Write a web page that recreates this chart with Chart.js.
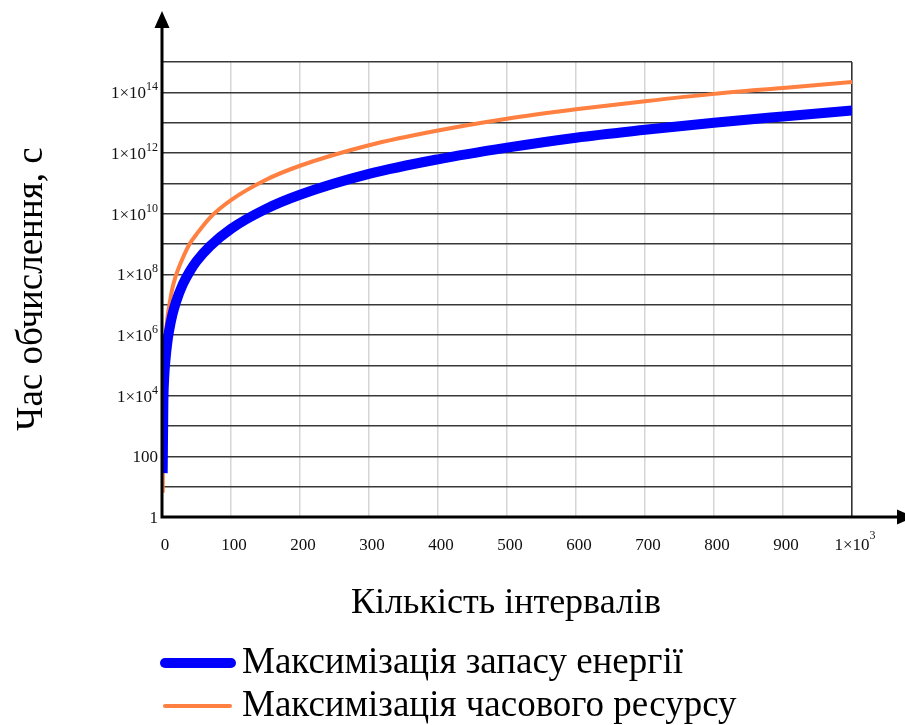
<!DOCTYPE html>
<html>
<head>
<meta charset="utf-8">
<script src="https://cdn.jsdelivr.net/npm/chart.js@4"></script>
<style>
  html, body { margin: 0; padding: 0; background: #fff; }
  #wrap { width: 905px; height: 725px; position: relative; }
</style>
</head>
<body>
<div id="wrap"><canvas id="c" width="905" height="725"></canvas></div>
<script>
// Number of intervals
const intervals = [1, 2, 3, 4, 5, 6, 8, 10, 15, 20, 30, 40, 50, 70, 100, 150, 200, 300, 400, 500, 600, 700, 800, 900, 1000];
// Computation time, s — energy reserve maximisation
const energyTime = [2.8e1, 6.3e3, 3.2e4, 7.9e4, 1.5e5, 2.6e5, 6.3e5, 1.26e6, 4.6e6, 1.17e7, 4.6e7, 1.23e8, 2.7e8, 8.7e8, 3.16e9, 1.41e10, 4.2e10, 2.04e11, 6.2e11, 1.5e12, 3.2e12, 5.8e12, 1.0e13, 1.6e13, 2.5e13];
// Computation time, s — time resource maximisation
const resourceTime = [6.3, 2.0e4, 1.1e5, 3.2e5, 7.1e5, 1.4e6, 4.0e6, 7.9e6, 3.4e7, 8.9e7, 3.4e8, 1.0e9, 2.1e9, 7.6e9, 2.8e10, 1.29e11, 3.8e11, 1.8e12, 5.5e12, 1.35e13, 2.75e13, 5.1e13, 8.9e13, 1.4e14, 2.2e14];

const seriesNames = ['Максимізація запасу енергії', 'Максимізація часового ресурсу'];
const axisTitleX = 'Кількість інтервалів';
const axisTitleY = 'Час обчислення, с';

// Tick labels: [mantissa text, superscript exponent]
const yTickValues = [1, 1e2, 1e4, 1e6, 1e8, 1e10, 1e12, 1e14];
const yTickLabels = [['1', ''], ['100', ''], ['1×10', '4'], ['1×10', '6'], ['1×10', '8'], ['1×10', '10'], ['1×10', '12'], ['1×10', '14']];
const xTickValues = [0, 100, 200, 300, 400, 500, 600, 700, 800, 900, 1000];
const xTickLabels = [['0', ''], ['100', ''], ['200', ''], ['300', ''], ['400', ''], ['500', ''], ['600', ''], ['700', ''], ['800', ''], ['900', ''], ['1×10', '3']];

const SERIF = '"Liberation Serif", "Times New Roman", serif';

function toPoints(xs, ys) {
  return xs.map((x, i) => ({ x: x, y: ys[i] }));
}

// Axis arrows, tick labels with superscripts, titles and legend
const decorations = {
  id: 'decorations',
  afterDraw(chart) {
    const ctx = chart.ctx;
    const xs = chart.scales.x;
    const ys = chart.scales.y;
    const x0 = xs.getPixelForValue(0);
    const y0 = ys.getPixelForValue(1);
    ctx.save();

    // axes with arrow heads
    ctx.strokeStyle = '#000';
    ctx.lineWidth = 3;
    ctx.beginPath();
    ctx.moveTo(x0, y0 + 1.5);
    ctx.lineTo(x0, 24);
    ctx.moveTo(x0 - 1.5, y0);
    ctx.lineTo(898, y0);
    ctx.stroke();
    ctx.fillStyle = '#000';
    ctx.beginPath();
    ctx.moveTo(x0, 11);
    ctx.lineTo(x0 - 7.5, 28);
    ctx.lineTo(x0 + 7.5, 28);
    ctx.closePath();
    ctx.fill();
    ctx.beginPath();
    ctx.moveTo(914, y0);
    ctx.lineTo(897, y0 - 7.5);
    ctx.lineTo(897, y0 + 7.5);
    ctx.closePath();
    ctx.fill();

    const MAIN = '17px ' + SERIF;
    const SUP = '12px ' + SERIF;

    // y tick labels
    ctx.fillStyle = '#111';
    ctx.textAlign = 'left';
    ctx.textBaseline = 'alphabetic';
    yTickValues.forEach((v, i) => {
      const y = ys.getPixelForValue(v);
      const [main, sup] = yTickLabels[i];
      ctx.font = MAIN;
      const mw = ctx.measureText(main).width;
      ctx.font = SUP;
      const sw = sup ? ctx.measureText(sup).width : 0;
      const right = 158;
      ctx.font = MAIN;
      ctx.fillText(main, right - sw - mw, y + 6);
      if (sup) {
        ctx.font = SUP;
        ctx.fillText(sup, right - sw, y - 2);
      }
    });

    // x tick labels
    xTickValues.forEach((v, i) => {
      const x = xs.getPixelForValue(v);
      const [main, sup] = xTickLabels[i];
      ctx.font = MAIN;
      const mw = ctx.measureText(main).width;
      const cx = sup ? x : x + 3;
      ctx.fillText(main, cx - mw / 2, y0 + 33);
      if (sup) {
        ctx.font = SUP;
        ctx.fillText(sup, cx + mw / 2, y0 + 22);
      }
    });

    // axis titles
    ctx.fillStyle = '#000';
    ctx.textAlign = 'center';
    ctx.textBaseline = 'middle';
    ctx.font = '36px ' + SERIF;
    ctx.fillText(axisTitleX, 506, 604);
    ctx.save();
    ctx.font = '37px ' + SERIF;
    ctx.translate(32, 289);
    ctx.rotate(-Math.PI / 2);
    ctx.fillText(axisTitleY, 0, 0);
    ctx.restore();

    // legend
    const rows = [663, 706];
    const spans = [[165, 231], [165, 230]];
    chart.data.datasets.forEach((ds, i) => {
      ctx.strokeStyle = ds.borderColor;
      ctx.lineWidth = ds.borderWidth;
      ctx.lineCap = 'round';
      ctx.beginPath();
      ctx.moveTo(spans[i][0], rows[i]);
      ctx.lineTo(spans[i][1], rows[i]);
      ctx.stroke();
      ctx.fillStyle = '#000';
      ctx.font = '37px ' + SERIF;
      ctx.textAlign = 'left';
      ctx.textBaseline = 'middle';
      ctx.fillText(ds.label, 242, rows[i]);
    });
    ctx.restore();
  }
};

new Chart(document.getElementById('c'), {
  type: 'line',
  data: {
    datasets: [
      {
        label: seriesNames[0],
        data: toPoints(intervals, energyTime),
        borderColor: '#0000ff',
        backgroundColor: '#0000ff',
        borderWidth: 10,
        pointRadius: 0,
        cubicInterpolationMode: 'monotone',
        clip: 0
      },
      {
        label: seriesNames[1],
        data: toPoints(intervals, resourceTime),
        borderColor: '#ff8040',
        backgroundColor: '#ff8040',
        borderWidth: 4,
        pointRadius: 0,
        cubicInterpolationMode: 'monotone',
        clip: 0
      }
    ]
  },
  options: {
    responsive: false,
    animation: false,
    devicePixelRatio: 1,
    layout: { padding: { left: 162, right: 53, top: 62, bottom: 208 } },
    plugins: { legend: { display: false }, tooltip: { enabled: false } },
    scales: {
      x: {
        type: 'linear',
        min: 0,
        max: 1000,
        afterBuildTicks(scale) { scale.ticks = xTickValues.map(v => ({ value: v })); },
        ticks: { display: false },
        border: { display: false },
        grid: {
          drawTicks: false,
          color: c => (c.tick && c.tick.value === 1000 ? '#333' : '#d6d6d6'),
          lineWidth: c => (c.tick && c.tick.value === 1000 ? 1.6 : 1.5)
        }
      },
      y: {
        type: 'logarithmic',
        min: 1,
        max: 1e15,
        afterBuildTicks(scale) {
          const t = [];
          for (let e = 0; e <= 15; e++) t.push({ value: Math.pow(10, e) });
          scale.ticks = t;
        },
        ticks: { display: false },
        border: { display: false },
        grid: { drawTicks: false, color: '#383838', lineWidth: 1.6 }
      }
    }
  },
  plugins: [decorations]
});
</script>
</body>
</html>
